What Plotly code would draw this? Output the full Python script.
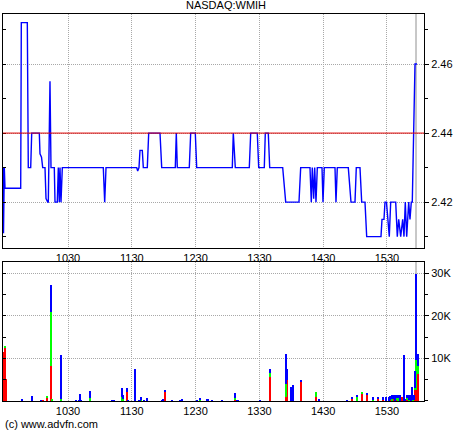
import plotly.graph_objects as go
from plotly.subplots import make_subplots

DAY = "2000-01-03 "

PRICE_TIMES = ["09:28:52","09:29:20","09:30:06","09:30:45","09:45:31","09:46:05","09:51:44","09:52:40","09:54:55","09:55:52",
               "10:03:01","10:03:40","10:05:05","10:06:13","10:08:22","10:09:19","10:10:55","10:11:29","10:13:04","10:14:01",
               "10:17:07","10:17:47","10:19:56","10:20:53","10:21:49","10:22:29","10:23:25","10:24:39","11:03:12","11:04:31",
               "11:05:45","11:34:37","11:35:33","11:36:47","11:37:43","11:39:53","11:40:50","11:44:35","11:45:54","11:56:32",
               "11:58:08","12:10:55","12:11:52","12:12:48","12:24:05","12:25:24","12:29:44","12:31:03","13:04:32","13:05:28",
               "13:07:21","13:20:31","13:21:50","13:28:02","13:29:21","13:34:37","13:35:34","13:38:23","13:39:42","13:51:56",
               "13:54:45","14:07:15","14:08:51","14:17:36","14:18:50","14:19:46","14:21:05","14:22:02","14:23:15","14:24:29",
               "14:28:54","14:29:50","14:31:03","14:41:07","14:42:03","14:43:17","14:53:38","14:56:10","14:59:56","15:01:09",
               "15:04:38","15:06:14","15:09:20","15:10:56","15:24:23","15:25:19","15:27:12","15:28:08","15:29:33","15:32:11",
               "15:33:30","15:38:13","15:39:43","15:41:02","15:42:55","15:44:47","15:46:01","15:47:14","15:48:33","15:50:26",
               "15:51:39","15:52:53","15:53:49","15:55:25","15:56:22","15:58:15"]
PRICES = [2.43, 2.411, 2.43, 2.424, 2.424, 2.472, 2.472, 2.43, 2.43, 2.44,
          2.44, 2.434, 2.433, 2.43, 2.43, 2.421, 2.42, 2.42, 2.455, 2.43,
          2.43, 2.42, 2.42, 2.43, 2.42, 2.43, 2.42, 2.43, 2.43, 2.42,
          2.43, 2.43, 2.429, 2.43, 2.435, 2.435, 2.43, 2.43, 2.44, 2.44,
          2.43, 2.43, 2.44, 2.43, 2.43, 2.44, 2.44, 2.43, 2.43, 2.44,
          2.43, 2.43, 2.44, 2.44, 2.43, 2.43, 2.44, 2.44, 2.43, 2.43,
          2.42, 2.42, 2.43, 2.43, 2.42, 2.43, 2.421, 2.43, 2.42, 2.43,
          2.43, 2.42, 2.43, 2.43, 2.42, 2.43, 2.43, 2.42, 2.42, 2.43,
          2.43, 2.42, 2.42, 2.41, 2.41, 2.415, 2.415, 2.42, 2.42, 2.41,
          2.42, 2.42, 2.41, 2.415, 2.41, 2.415, 2.41, 2.42, 2.41, 2.42,
          2.415, 2.42, 2.42, 2.44, 2.46, 2.46]

PREV_CLOSE = 2.44
SESSION_MARK = "15:57:19"

VOL_TIMES = ["09:29:45","09:30:45","09:31:45","09:47:01","09:56:26","10:04:54","10:06:46","10:10:15","10:14:01","10:15:14",
             "10:23:42","10:37:15","10:39:53","10:41:17","10:42:42","10:50:59","11:11:23","11:13:16","11:21:04","11:22:01",
             "11:25:47","11:26:43","11:33:18","11:36:19","11:37:43","11:38:57","11:41:29","11:44:01","11:58:41","11:59:38",
             "12:01:31","12:08:06","12:15:20","12:16:56","12:31:03","12:34:09","12:40:44","12:41:57","12:45:26","12:55:07",
             "13:07:04","13:08:40","13:10:10","13:30:18","13:40:16","13:55:19","13:56:15","14:00:01","14:01:20","14:09:25",
             "14:22:58","14:26:21","14:52:41","14:57:23","15:02:05","15:06:47","15:11:30","15:17:08","15:21:50","15:26:32",
             "15:29:05","15:31:38","15:33:08","15:34:27","15:35:40","15:37:16","15:38:46","15:40:22","15:42:15","15:44:25",
             "15:46:01","15:47:14","15:48:50","15:50:26","15:51:39","15:52:53","15:53:49","15:54:46","15:55:42","15:56:22",
             "15:57:19","15:59:28"]
VOL_RED = [11400, 12400, 5200, 0, 0, 0, 300, 900, 8200, 0,
           0, 0, 0, 0, 0, 0, 0, 0, 0, 0,
           2100, 0, 0, 0, 0, 0, 0, 0, 0, 0,
           2000, 0, 0, 0, 0, 0, 0, 0, 0, 0,
           300, 0, 0, 0, 5600, 1000, 4900, 0, 0, 4600,
           1000, 0, 0, 500, 0, 1700, 1600, 0, 600, 300,
           0, 0, 300, 0, 500, 0, 300, 0, 0, 1000,
           0, 0, 300, 0, 0, 0, 0, 0, 300, 2500,
           2500, 6400]
VOL_GREEN = [0, 500, 0, 0, 0, 0, 0, 200, 12700, 500,
             500, 0, 0, 0, 0, 800, 0, 0, 900, 500,
             0, 0, 0, 0, 0, 300, 0, 0, 0, 0,
             0, 0, 0, 0, 0, 400, 200, 0, 0, 0,
             500, 0, 0, 0, 900, 3000, 0, 0, 0, 0,
             1000, 0, 0, 0, 1000, 200, 0, 300, 0, 0,
             0, 0, 0, 500, 0, 0, 500, 800, 0, 0,
             0, 0, 500, 300, 300, 0, 500, 300, 0, 500,
             7100, 1700]
VOL_BLUE = [0, 0, 0, 500, 1100, 300, 0, 0, 6400, 0,
            10200, 200, 300, 1600, 300, 1600, 200, 200, 2200, 800,
            900, 200, 7400, 300, 300, 600, 300, 800, 300, 500,
            500, 200, 200, 500, 200, 400, 300, 500, 200, 300,
            1000, 300, 200, 300, 900, 7000, 2700, 3200, 3700, 300,
            0, 500, 300, 500, 300, 0, 300, 700, 400, 700,
            1000, 1000, 900, 800, 800, 1300, 500, 500, 1300, 0,
            10700, 500, 500, 1000, 1000, 1300, 2700, 1000, 1000, 4000,
            20100, 2900]

X_TICK_TIMES = ["10:30:00", "11:30:00", "12:30:00", "13:30:00", "14:30:00", "15:30:00"]
X_TICK_LABELS = ["1030", "1130", "1230", "1330", "1430", "1530"]
VOL_TICKS = [10000, 20000, 30000]
VOL_TICK_LABELS = ["10K", "20K", "30K"]

X_RANGE = ["09:28:52", "16:04:50"]
PRICE_RANGE = [2.4067, 2.4745]
VOL_RANGE = [0, 32600]

FONT = "Liberation Sans, Arial, sans-serif"

def ts(t):
    return DAY + t

fig = make_subplots(rows=2, cols=1, shared_xaxes=False, vertical_spacing=0.0)

fig.add_trace(go.Scatter(x=[ts(t) for t in PRICE_TIMES], y=PRICES, mode="lines",
                         line=dict(color="#0000ff", width=1.4), showlegend=False,
                         hoverinfo="skip"), row=1, col=1)

vt = [ts(t) for t in VOL_TIMES]
for vals, col in ((VOL_RED, "#ff0000"), (VOL_GREEN, "#00ff00"), (VOL_BLUE, "#0000ff")):
    fig.add_trace(go.Bar(x=vt, y=vals, marker=dict(color=col, line=dict(width=0)),
                         width=55000, showlegend=False, hoverinfo="skip"), row=2, col=1)

grid = dict(showgrid=True, gridcolor="#a8a8a8", gridwidth=1, griddash="1px,1px")
axis_common = dict(showline=True, linecolor="black", linewidth=1, mirror=True, zeroline=False,
                   tickfont=dict(family=FONT, size=11, color="black"))

xcommon = dict(type="date", range=[ts(X_RANGE[0]), ts(X_RANGE[1])],
               tickvals=[ts(t) for t in X_TICK_TIMES], ticktext=X_TICK_LABELS,
               ticks="", **grid, **axis_common)
fig.update_xaxes(domain=[0, 1], **xcommon, row=1, col=1)
fig.update_xaxes(domain=[0, 1], **xcommon, row=2, col=1)

fig.update_yaxes(range=PRICE_RANGE, side="right", tick0=2.40, dtick=0.02, tickformat=".2f",
                 ticks="outside", ticklen=4, tickcolor="black",
                 minor=dict(dtick=0.01, tick0=2.40, ticks="outside", ticklen=3, tickcolor="black", showgrid=False),
                 domain=[0.3953, 1.0], **grid, **axis_common, row=1, col=1)
fig.update_yaxes(range=VOL_RANGE, side="right", tickvals=VOL_TICKS, ticktext=VOL_TICK_LABELS,
                 ticks="outside", ticklen=4, tickcolor="black",
                 minor=dict(dtick=5000, tick0=0, ticks="outside", ticklen=3, tickcolor="black", showgrid=False),
                 domain=[0.0, 0.3592], **grid, **axis_common, row=2, col=1)

# inner tick marks on the left borders
fig.update_layout(
    yaxis3=dict(overlaying="y", anchor="x", side="left", range=PRICE_RANGE, tick0=2.40, dtick=0.01,
                ticks="inside", ticklen=3, tickcolor="black", showticklabels=False, showgrid=False,
                zeroline=False, showline=False),
    yaxis4=dict(overlaying="y2", anchor="x2", side="left", range=VOL_RANGE, tick0=0, dtick=5000,
                ticks="inside", ticklen=3, tickcolor="black", showticklabels=False, showgrid=False,
                zeroline=False, showline=False),
)
fig.add_trace(go.Scatter(x=[ts(X_RANGE[0])], y=[None], xaxis="x", yaxis="y3", showlegend=False,
                         hoverinfo="skip", mode="lines"))
fig.add_trace(go.Scatter(x=[ts(X_RANGE[0])], y=[None], xaxis="x2", yaxis="y4", showlegend=False,
                         hoverinfo="skip", mode="lines"))

# previous close reference line
fig.add_shape(type="line", xref="x domain", yref="y", x0=0, x1=1, y0=PREV_CLOSE, y1=PREV_CLOSE,
              line=dict(color="#dd0000", width=1))
# session end marker
for xr, yr in (("x", "y domain"), ("x2", "y2 domain")):
    fig.add_shape(type="line", xref=xr, yref=yr, x0=ts(SESSION_MARK), x1=ts(SESSION_MARK), y0=0, y1=1,
                  line=dict(color="#909090", width=1), layer="below")

fig.add_annotation(text="NASDAQ:WMIH", xref="paper", yref="paper", x=0.53, y=1.0, yshift=1,
                   xanchor="center", yanchor="bottom", showarrow=False,
                   font=dict(family=FONT, size=11, color="black"))
fig.add_annotation(text="(c) www.advfn.com", xref="paper", yref="paper", x=0.0, y=0.0, yshift=-15,
                   xanchor="left", yanchor="top", showarrow=False,
                   font=dict(family=FONT, size=11, color="black"))

fig.update_layout(width=460, height=430, margin=dict(l=3, r=36, t=14, b=29),
                  paper_bgcolor="white", plot_bgcolor="white", barmode="stack", bargap=0,
                  font=dict(family=FONT, size=11, color="black"))

fig.write_html("out.html", config={"displayModeBar": False},
               post_script="document.body.style.margin='0px';document.body.style.overflow='hidden';")
